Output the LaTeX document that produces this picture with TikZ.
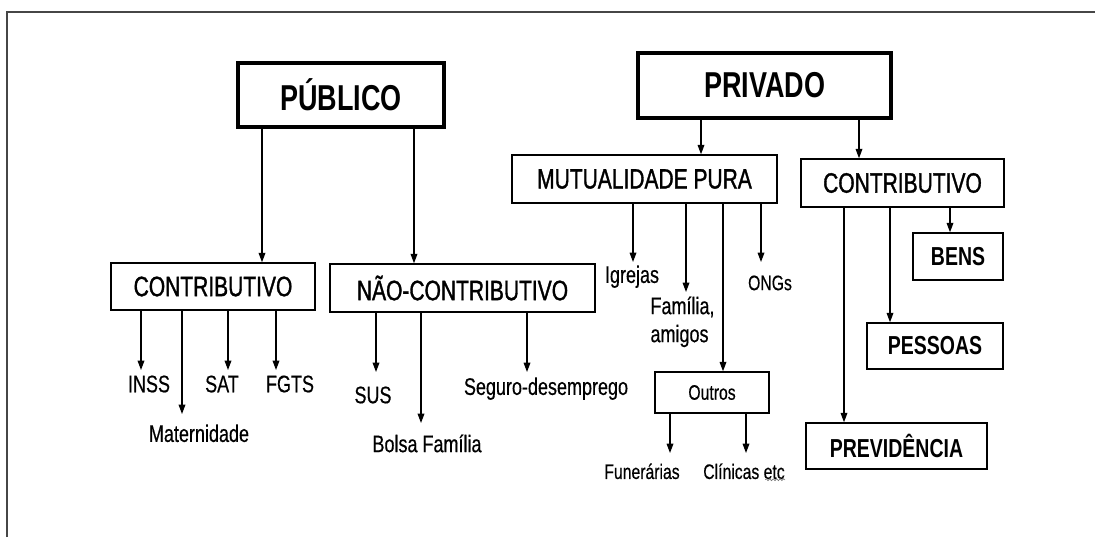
\documentclass[tikz,border=0pt]{standalone}
\usepackage{fontspec}
\setmainfont{Liberation Sans}[FakeStretch=0.75, UprightFeatures={FakeBold=0.4}]
\newfontfamily\boxfont{Liberation Sans}[FakeStretch=0.75, FakeBold=1.2]
\usetikzlibrary{arrows.meta,decorations.pathmorphing}

\tikzset{every picture/.style={line width=0.75pt}}
\tikzset{
  topbox/.style={draw, line width=2.5pt, inner sep=0pt, font=\bfseries\fontsize{27}{32}\selectfont},
  midbox/.style={draw, line width=1.1pt, inner sep=0pt, font=\boxfont\fontsize{21}{25}\selectfont},
  endbox/.style={draw, line width=1.1pt, inner sep=0pt, font=\bfseries\fontsize{19.5}{23}\selectfont},
  smallbox/.style={draw, line width=1.1pt, inner sep=0pt, font=\fontsize{15.75}{19}\selectfont},
  leaf/.style={anchor=north, inner sep=0pt, font=\fontsize{18}{21}\selectfont},
  smallleaf/.style={leaf, font=\fontsize{15.75}{19}\selectfont},
  arr/.style={-{Triangle[length=7pt,width=5pt]}, line width=0.9pt},
  frameline/.style={line width=0.9pt, color={rgb, 255:red, 70; green, 70; blue, 70 }},
  squiggle/.style={decorate, decoration={snake, amplitude=0.7pt, segment length=2.6pt}, line width=0.5pt, color={rgb, 255:red, 120; green, 120; blue, 120 }}
}

\begin{document}
\begin{tikzpicture}[x=0.75pt,y=0.75pt,yscale=-1,xscale=1]
\useasboundingbox (0,0) rectangle (1095,537);

%Straight Lines (frame)
\draw [frameline] (7,537) -- (7,12) -- (1095,12) ;

%Shape: Rectangle
\node [topbox, minimum width=154.5pt, minimum height=48pt] (publico) at (341,95) {PÚBLICO};
\node [topbox, minimum width=189.75pt, minimum height=48.75pt] (privado) at (764.5,85.5) {PRIVADO};
\node [midbox, minimum width=153pt, minimum height=35.25pt] (contpub) at (213,286.5) {CONTRIBUTIVO};
\node [midbox, minimum width=198.75pt, minimum height=36pt] (naocont) at (462.5,288) {NÃO-CONTRIBUTIVO};
\node [midbox, minimum width=198.75pt, minimum height=36pt] (mutual) at (644.5,179) {MUTUALIDADE PURA};
\node [midbox, minimum width=152.25pt, minimum height=36pt] (contpriv) at (902.5,183) {CONTRIBUTIVO};
\node [endbox, minimum width=67.5pt, minimum height=35.25pt] (bens) at (958,256.5) {BENS};
\node [endbox, minimum width=102pt, minimum height=34.5pt] (pessoas) at (935,346) {PESSOAS};
\node [endbox, minimum width=135.75pt, minimum height=34.5pt] (previd) at (896.5,446) {PREVIDÊNCIA};
\node [smallbox, minimum width=85.5pt, minimum height=30.75pt] (outros) at (712,392.5) {Outros};

% Text Node
\node [leaf] (inss) at (149,375) {INSS};
\node [leaf] (sat) at (222,375) {SAT};
\node [leaf] (fgts) at (290,375) {FGTS};
\node [leaf] (matern) at (199,424) {Maternidade};
\node [leaf] (sus) at (373,386) {SUS};
\node [leaf] (bolsa) at (427,434) {Bolsa Família};
\node [leaf] (seguro) at (546,377) {Seguro-desemprego};
\node [leaf] (igrejas) at (632,265) {Igrejas};
\node [leaf, anchor=north west, align=left] (familia) at (650,296) {Família,\\amigos};
\node [smallleaf] (ongs) at (770,275) {ONGs};
\node [smallleaf] (funer) at (642,463) {Funerárias};
\node [smallleaf] (clinicas) at (744,463) {Clínicas etc};

%Straight Lines
\draw [arr] (262,0 |- publico.south) -- (262,0 |- contpub.north) ;
\draw [arr] (414,0 |- publico.south) -- (414,0 |- naocont.north) ;
\draw [arr] (701,0 |- privado.south) -- (701,0 |- mutual.north) ;
\draw [arr] (859,0 |- privado.south) -- (859,0 |- contpriv.north) ;
%Straight Lines
\draw [arr, shorten >=3.75pt] (141,0 |- contpub.south) -- (141,0 |- inss.north) ;
\draw [arr, shorten >=7.5pt] (182,0 |- contpub.south) -- (182,0 |- matern.north) ;
\draw [arr, shorten >=3.75pt] (228,0 |- contpub.south) -- (228,0 |- sat.north) ;
\draw [arr, shorten >=3.75pt] (276,0 |- contpub.south) -- (276,0 |- fgts.north) ;
%Straight Lines
\draw [arr, shorten >=10.5pt] (376,0 |- naocont.south) -- (376,0 |- sus.north) ;
\draw [arr, shorten >=8.25pt] (421,0 |- naocont.south) -- (421,0 |- bolsa.north) ;
\draw [arr, shorten >=3.75pt] (527,0 |- naocont.south) -- (527,0 |- seguro.north) ;
%Straight Lines
\draw [arr, shorten >=2.25pt] (633,0 |- mutual.south) -- (633,0 |- igrejas.north) ;
\draw [arr, shorten >=3pt] (686,0 |- mutual.south) -- (686,0 |- familia.north) ;
\draw [arr] (723,0 |- mutual.south) -- (723,0 |- outros.north) ;
\draw [arr, shorten >=9.75pt] (761,0 |- mutual.south) -- (761,0 |- ongs.north) ;
%Straight Lines
\draw [arr] (844,0 |- contpriv.south) -- (844,0 |- previd.north) ;
\draw [arr] (890,0 |- contpriv.south) -- (890,0 |- pessoas.north) ;
\draw [arr] (950,0 |- contpriv.south) -- (950,0 |- bens.north) ;
%Straight Lines
\draw [arr, shorten >=7.5pt] (670,0 |- outros.south) -- (670,0 |- funer.north) ;
\draw [arr, shorten >=7.5pt] (746,0 |- outros.south) -- (746,0 |- clinicas.north) ;

%Curve Lines (spelling mark)
\draw [squiggle] ([xshift=-15pt]clinicas.south east) -- (clinicas.south east) ;

\end{tikzpicture}
\end{document}
